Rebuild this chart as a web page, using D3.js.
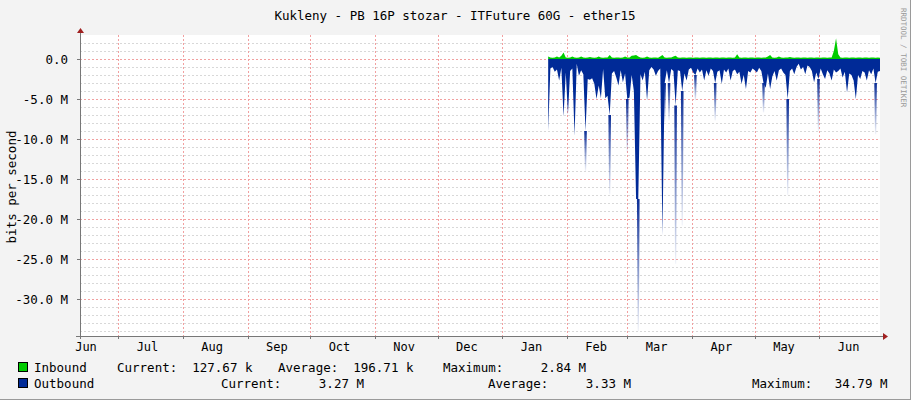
<!DOCTYPE html>
<html><head><meta charset="utf-8">
<script src="https://cdn.jsdelivr.net/npm/d3@7"></script>
<style>body{margin:0;background:#f3f3f3}svg{display:block}text{font-family:"DejaVu Sans Mono",monospace}</style>
</head><body><svg id="c" width="911" height="400"></svg>
<script>
const monthLabels = ["Jun","Jul","Aug","Sep","Oct","Nov","Dec","Jan","Feb","Mar","Apr","May","Jun"];
const yTicks = [0,-5,-10,-15,-20,-25,-30];
const dataStart = "2024-01-23", dataEnd = "2024-06-30";
// outbound average (M bits/s, negative = drawn downward)
const outboundAvg = [-9.0,-1.2,-1.0,-1.6,-1.3,-2.7,-1.1,-7.2,-1.7,-6.9,-1.5,-1.2,-9.6,-0.6,-2.1,-1.4,-1.9,-9.0,-2.5,-2.6,
-2.4,-3.1,-5.0,-3.3,-4.9,-1.25,-4.9,-4.6,-7.0,-1.8,-1.5,-2.3,-3.3,-1.4,-2.9,-1.8,-5.0,-4.8,-2.0,-4.0,
-17.5,-17.5,-1.9,-2.7,-1.6,-5.2,-1.4,-1.0,-1.3,-2.1,-1.5,-1.2,-22.0,-3.0,-1.4,-3.0,-1.25,-1.5,-5.8,-1.4,
-1.5,-4.0,-1.8,-2.7,-1.3,-1.1,-1.7,-2.0,-1.2,-1.7,-1.3,-2.7,-1.4,-2.1,-1.2,-1.5,-3.0,-1.6,-1.4,-3.1,
-1.3,-1.7,-1.2,-2.7,-1.5,-1.3,-1.9,-1.6,-3.1,-2.0,-3.75,-1.5,-1.7,-1.2,-1.4,-1.7,-1.1,-1.5,-3.0,-3.6,
-1.8,-3.75,-2.2,-1.5,-2.7,-1.4,-1.2,-1.7,-2.0,-5.0,-1.5,-1.2,-1.9,-1.0,-0.6,-1.3,-1.0,-1.9,-0.8,-1.0,
-1.5,-2.9,-1.7,-2.5,-1.2,-1.9,-2.5,-1.4,-1.8,-2.7,-1.3,-1.7,-1.5,-1.2,-2.3,-1.6,-4.2,-1.8,-2.0,-2.7,
-5.0,-2.0,-2.5,-1.5,-1.7,-2.7,-1.4,-1.9,-1.2,-3.0,-1.6,-1.5];
// outbound peaks (sample index, value)
const peakIdx  = [17,28,36,41,53,55,58,61,67,76,98,109,123,149];
const peakVals = [-14,-16.9,-11.7,-34,-7.9,-7.7,-25.6,-20.8,-5.2,-7.7,-6.7,-17,-9,-9.4];
const inbound = [0.3,0.2,0.15,0.2,0.3,0.2,0.4,0.8,0.2,0.15,0.2,0.3,0.2,0.15,0.2,0.3,0.2,0.15,0.2,0.25,
0.2,0.15,0.2,0.3,0.2,0.15,0.2,0.2,0.5,0.2,0.15,0.2,0.2,0.15,0.2,0.3,0.2,0.2,0.4,0.45,
0.5,0.3,0.2,0.15,0.2,0.3,0.2,0.15,0.2,0.2,0.15,0.3,0.5,0.2,0.15,0.2,0.2,0.3,0.4,0.2,
0.15,0.2,0.2,0.15,0.2,0.2,0.15,0.2,0.2,0.15,0.2,0.2,0.15,0.2,0.2,0.15,0.2,0.2,0.15,0.2,
0.2,0.15,0.2,0.2,0.15,0.2,0.6,0.2,0.15,0.2,0.2,0.15,0.2,0.2,0.15,0.2,0.2,0.15,0.2,0.2,
0.3,0.5,0.2,0.15,0.2,0.3,0.2,0.15,0.2,0.2,0.25,0.2,0.15,0.2,0.2,0.15,0.2,0.2,0.15,0.2,
0.2,0.15,0.2,0.2,0.15,0.2,0.2,0.15,0.2,0.2,1.0,2.6,0.6,0.2,0.15,0.2,0.2,0.15,0.2,0.2,
0.15,0.2,0.2,0.15,0.2,0.2,0.15,0.2,0.2,0.15,0.2,0.15];

const svg = d3.select("#c");
const L=80,R=880,T=35,B=336;
const x = d3.scaleTime().domain([new Date(2023,5,12,16), new Date(2024,5,30)]).range([L,R]);
const y = d3.scaleLinear().domain([3,-34.62]).range([T,B]);
const t0=new Date(dataStart+"T00:00"), t1=new Date(dataEnd+"T00:00");
const n=outboundAvg.length;
const tAt = i => new Date(+t0 + (t1-t0)*i/(n-1));

svg.append("rect").attr("width",911).attr("height",400).attr("fill","#f3f3f3");
svg.append("line").attr("x1",910.5).attr("x2",910.5).attr("y1",0).attr("y2",400).attr("stroke","#9a9a9a");
svg.append("line").attr("x1",0).attr("x2",911).attr("y1",399.5).attr("y2",399.5).attr("stroke","#9a9a9a");
svg.append("rect").attr("x",L).attr("y",T).attr("width",R-L).attr("height",B-T).attr("fill","#fff");

// minor grid
const g=svg.append("g");
for(let v=2; v>=-34; v--){ if(v%5===0) continue;
  g.append("line").attr("x1",L).attr("x2",R).attr("y1",Math.round(y(v))+.5).attr("y2",Math.round(y(v))+.5)
   .attr("stroke","#d8d8d8").attr("stroke-dasharray","2,2");}
yTicks.forEach(v=>g.append("line").attr("x1",L).attr("x2",R).attr("y1",Math.round(y(v))+.5).attr("y2",Math.round(y(v))+.5)
   .attr("stroke","#f2a0a0").attr("stroke-dasharray","2,2"));
const months=d3.timeMonth.range(new Date(2023,6,1),new Date(2024,6,1));
months.forEach(m=>g.append("line").attr("x1",Math.round(x(m))+.5).attr("x2",Math.round(x(m))+.5).attr("y1",T).attr("y2",B)
   .attr("stroke","#f2a0a0").attr("stroke-dasharray","2,2"));

// outbound peaks with gradient
const defs=svg.append("defs");
const gr=defs.append("linearGradient").attr("id","fade").attr("x1",0).attr("x2",0).attr("y1",0).attr("y2",1);
gr.append("stop").attr("offset",0).attr("stop-color","#0a2d96");
gr.append("stop").attr("offset",1).attr("stop-color","#0a2d96").attr("stop-opacity",0.05);
const dx = x(tAt(1))-x(tAt(0));
peakIdx.forEach((i,k)=>{
  const cx=x(tAt(i));
  svg.append("path").attr("fill","url(#fade)")
   .attr("d",`M${cx-dx*0.6},${y(outboundAvg[i])}L${cx+dx*0.6},${y(outboundAvg[i])}L${cx+0.6},${y(peakVals[k])}L${cx-0.6},${y(peakVals[k])}Z`);
});
const outArea=d3.area().x((d,i)=>x(tAt(i))).y0(y(0)).y1(d=>y(d)).curveLinear;
svg.append("path").datum(outboundAvg).attr("fill","#002a97").attr("d",d3.area().x((d,i)=>x(tAt(i))).y0(y(0)).y1(d=>y(d)));
svg.append("path").datum(inbound).attr("fill","#00cc00").attr("d",d3.area().x((d,i)=>x(tAt(i))).y0(y(0)).y1(d=>y(d)));

// axes
svg.append("line").attr("x1",L-4).attr("x2",R+3).attr("y1",B+.5).attr("y2",B+.5).attr("stroke","#777");
svg.append("line").attr("x1",L+.5).attr("x2",L+.5).attr("y1",T-2).attr("y2",B+3).attr("stroke","#777");
svg.append("path").attr("d",`M${R+3},${B-3}L${R+8},${B+.5}L${R+3},${B+4}Z`).attr("fill","#a02020");
svg.append("path").attr("d",`M${L-3},${T-2}L${L+.5},${T-7}L${L+4},${T-2}Z`).attr("fill","#a02020");
yTicks.forEach(v=>{
  svg.append("line").attr("x1",L-3).attr("x2",L).attr("y1",Math.round(y(v))+.5).attr("y2",Math.round(y(v))+.5).attr("stroke","#777");
  svg.append("text").attr("x",L-12).attr("y",y(v)+4.5).attr("text-anchor","end").attr("font-size",12.5).attr("fill","#000")
    .text(v===0?"0.0":v.toFixed(1)+" M");});
months.forEach(m=>svg.append("line").attr("x1",Math.round(x(m))+.5).attr("x2",Math.round(x(m))+.5).attr("y1",B).attr("y2",B+3).attr("stroke","#777"));
const labDates=[new Date(2023,5,15)].concat(months.map(m=>new Date(m.getFullYear(),m.getMonth(),15)));
labDates.forEach((d,i)=>svg.append("text").attr("x",Math.max(x(d),86)).attr("y",351).attr("text-anchor","middle")
  .attr("font-size",12).text(monthLabels[i]));

svg.append("text").attr("x",455).attr("y",20).attr("text-anchor","middle").attr("font-size",12.5)
  .text("Kukleny - PB 16P stozar - ITFuture 60G - ether15");
svg.append("text").attr("transform","translate(16,187) rotate(-90)").attr("text-anchor","middle").attr("font-size",12.5).text("bits per second");
svg.append("text").attr("transform","translate(901,8) rotate(90)").attr("font-size",7.5).attr("fill","#999").text("RRDTOOL / TOBI OETIKER");

// legend
const lg=[["#00cc00",372,"Inbound",[[117,"Current:  127.67 k"],[278,"Average:  196.71 k"],[443,"Maximum:     2.84 M"]]],
 ["#002a97",388,"Outbound",[[221,"Current:     3.27 M"],[488,"Average:     3.33 M"],[752,"Maximum:   34.79 M"]]]];
lg.forEach(([c,yy,name,items])=>{
  svg.append("rect").attr("x",18.5).attr("y",yy-9.5).attr("width",9).attr("height",9).attr("fill",c).attr("stroke","#000");
  svg.append("text").attr("x",34).attr("y",yy).attr("font-size",12.5).text(name);
  items.forEach(([xx,t])=>svg.append("text").attr("x",xx).attr("y",yy).attr("font-size",12.5).attr("xml:space","preserve").style("white-space","pre").text(t));
});
</script></body></html>
